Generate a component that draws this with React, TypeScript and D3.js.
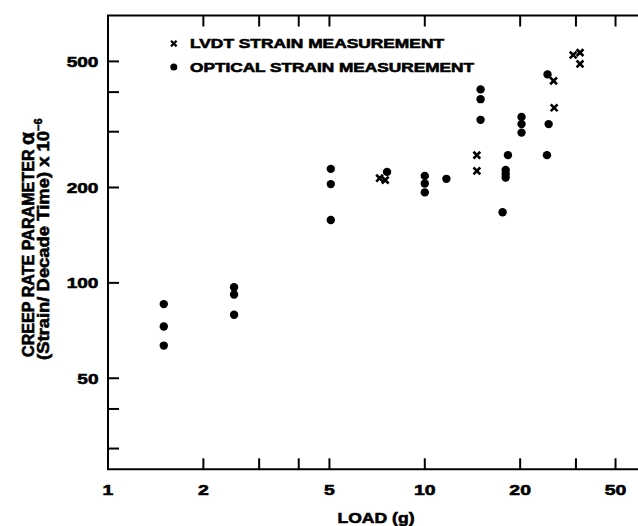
import React from "react";
import * as d3 from "d3";

const opticalLoad = [1.5, 1.5, 1.5, 2.5, 2.5, 2.5, 5.05, 5.05, 5.05, 7.6, 10, 10, 10, 11.7, 15, 15, 15, 17.6, 18, 18, 18, 18.3, 20.2, 20.2, 20.2, 24.3, 24.4, 24.6];
const opticalRate = [85.7, 72.8, 63.4, 96.9, 91.9, 79.3, 229, 205, 158, 224, 217.6, 206, 193, 213, 408, 380, 327, 167, 227, 221, 215, 253, 334, 317, 298, 253, 455, 317];

const lvdtLoad = [7.2, 7.5, 14.6, 14.6, 25.5, 25.6, 29.4, 30.9, 30.9];
const lvdtRate = [214, 211, 253, 225.6, 434, 357, 524, 533, 491];

const xMinorTicks = [2, 3, 4, 5, 10, 20, 30, 40];
const xLabelValues = [1, 2, 5, 10, 20, 40];
const xLabelTexts = ["1", "2", "5", "10", "20", "50"];

const yTicks = [30, 40, 50, 100, 200, 300, 400, 500];
const yLabelValues = [50, 100, 200, 500];
const yLabelTexts = ["50", "100", "200", "500"];

const legendTexts = ["LVDT STRAIN MEASUREMENT", "OPTICAL STRAIN MEASUREMENT"];

const W = 638;
const H = 526;
const left = 108;
const top = 15.5;
const bottom = 469.3;
const decade = 316.8;

export default function App() {
  const xMax = 48;
  const x = d3.scaleLog().domain([1, xMax]).range([left, left + decade * Math.log10(xMax)]);
  const yMin = 25.8;
  const yMax = 698;
  const y = d3.scaleLog().domain([yMin, yMax]).range([bottom, top]);
  const font = "'Liberation Sans', Arial, Helvetica, sans-serif";
  const tick = 11;
  const right = x(xMax);
  const heavy = { stroke: "#000", strokeWidth: 0.6 };

  const cross = (cx: number, cy: number, s: number) =>
    `M${cx - s},${cy - s}L${cx + s},${cy + s}M${cx - s},${cy + s}L${cx + s},${cy - s}`;

  return (
    <svg width={W} height={H} style={{ position: "absolute", left: 0, top: 0, background: "#fff" }}>
      <rect x={0} y={0} width={W} height={H} fill="#fff" />
      {/* frame */}
      <path
        d={`M${right},${top}L${left},${top}L${left},${bottom}L${right},${bottom}`}
        fill="none"
        stroke="#000"
        strokeWidth={2}
      />
      {/* x ticks bottom & top */}
      {xMinorTicks.map((t) => (
        <g key={"xt" + t}>
          <line x1={x(t)} x2={x(t)} y1={bottom} y2={bottom - tick} stroke="#000" strokeWidth={2} />
          <line x1={x(t)} x2={x(t)} y1={top} y2={top + tick} stroke="#000" strokeWidth={2} />
        </g>
      ))}
      {/* y ticks */}
      {yTicks.map((t) => (
        <line key={"yt" + t} x1={left} x2={left + tick} y1={y(t)} y2={y(t)} stroke="#000" strokeWidth={2} />
      ))}
      {/* x labels */}
      {xLabelValues.map((v, i) => (
        <text
          key={"xl" + v}
          x={x(v)}
          y={495}
          textAnchor="middle"
          fontFamily={font}
          fontWeight="bold"
          fontSize={15.5}
          textLength={xLabelTexts[i].length * 10.8}
          lengthAdjust="spacingAndGlyphs"
          {...heavy}
        >
          {xLabelTexts[i]}
        </text>
      ))}
      {/* y labels */}
      {yLabelValues.map((v, i) => (
        <text
          key={"yl" + v}
          x={98.5}
          y={y(v) + 5.6}
          textAnchor="end"
          fontFamily={font}
          fontWeight="bold"
          fontSize={15.5}
          textLength={yLabelTexts[i].length * 10.6}
          lengthAdjust="spacingAndGlyphs"
          {...heavy}
        >
          {yLabelTexts[i]}
        </text>
      ))}
      {/* x title */}
      <text
        x={376}
        y={523}
        textAnchor="middle"
        fontFamily={font}
        fontWeight="bold"
        fontSize={15.5}
        textLength={77}
        lengthAdjust="spacingAndGlyphs"
        {...heavy}
      >
        LOAD (g)
      </text>
      {/* y title */}
      <text
        transform={`translate(33.5,357) rotate(-90)`}
        fontFamily={font}
        fontWeight="bold"
        fontSize={16.5}
        {...heavy}
      >
        <tspan textLength={212} lengthAdjust="spacingAndGlyphs">CREEP RATE PARAMETER </tspan>
        <tspan fontSize={21}>α</tspan>
      </text>
      <text
        transform={`translate(49,360) rotate(-90)`}
        fontFamily={font}
        fontWeight="bold"
        fontSize={16.5}
        {...heavy}
      >
        <tspan textLength={229} lengthAdjust="spacingAndGlyphs">(Strain/ Decade Time) x 10</tspan>
        <tspan fontSize={11} dy={-7}>−6</tspan>
      </text>
      {/* legend */}
      <path d={cross(x(1.5) + 10, 43.6, 2.8)} stroke="#000" strokeWidth={2.2} fill="none" />
      <circle cx={x(1.5) + 10} cy={67} r={3.5} fill="#000" />
      <text
        x={190}
        y={48.4}
        fontFamily={font}
        fontWeight="bold"
        fontSize={13.2}
        textLength={254}
        lengthAdjust="spacingAndGlyphs"
        {...heavy}
      >
        {legendTexts[0]}
      </text>
      <text
        x={190}
        y={71.8}
        fontFamily={font}
        fontWeight="bold"
        fontSize={13.2}
        textLength={284}
        lengthAdjust="spacingAndGlyphs"
        {...heavy}
      >
        {legendTexts[1]}
      </text>
      {/* data */}
      {opticalLoad.map((l, i) => (
        <circle key={"o" + i} cx={x(l)} cy={y(opticalRate[i])} r={4.2} fill="#000" />
      ))}
      {lvdtLoad.map((l, i) => (
        <path
          key={"l" + i}
          d={cross(x(l), y(lvdtRate[i]), 3.4)}
          stroke="#000"
          strokeWidth={2.6}
          fill="none"
        />
      ))}
    </svg>
  );
}
